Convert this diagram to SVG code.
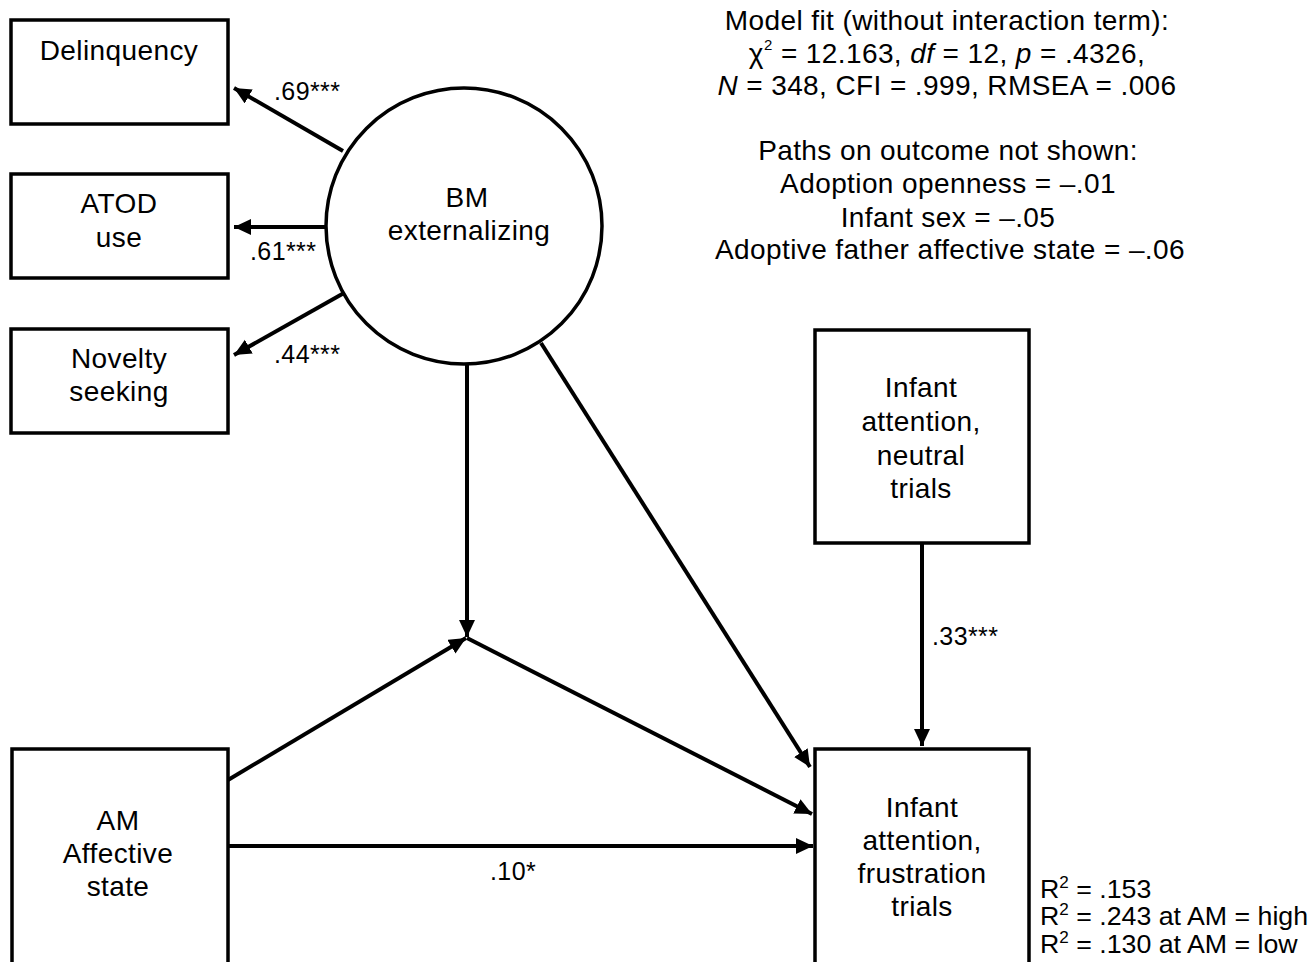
<svg xmlns="http://www.w3.org/2000/svg" width="1313" height="962" viewBox="0 0 1313 962">
<style>
text{font-family:"Liberation Sans",Arial,sans-serif;fill:#000}
.n{font-size:28px;letter-spacing:0.4px;text-anchor:middle}
.lbl{font-size:25px;letter-spacing:0.4px}
.box{fill:#fff;stroke:#000;stroke-width:3.5}
.edge{stroke:#000;stroke-width:4;fill:none;marker-end:url(#ah)}
.note{font-size:28px;letter-spacing:0.4px;text-anchor:middle}
.r2{font-size:25px}
</style>
<defs>
<marker id="ah" markerUnits="userSpaceOnUse" markerWidth="18" markerHeight="17" refX="17" refY="8" orient="auto">
<path d="M0,0 L17,8 L0,16 z" fill="#000"/>
</marker>
</defs>
<rect width="1313" height="962" fill="#fff"/>

<g id="connectors">
<line class="edge" x1="343" y1="151" x2="234" y2="88"/>
<line class="edge" x1="326" y1="227" x2="234" y2="227"/>
<line class="edge" x1="344" y1="293" x2="234" y2="355"/>
<line class="edge" x1="467" y1="364" x2="467" y2="637"/>
<line class="edge" x1="228" y1="780" x2="466" y2="638"/>
<line class="edge" x1="467" y1="638" x2="812" y2="814"/>
<line class="edge" x1="541" y1="343" x2="810" y2="767"/>
<line class="edge" x1="228" y1="846" x2="813" y2="846"/>
<line class="edge" x1="922" y1="543" x2="922" y2="746"/>
<text class="lbl" x="274" y="100">.69***</text>
<text class="lbl" x="250" y="260">.61***</text>
<text class="lbl" x="274" y="363">.44***</text>
<text class="lbl" x="490" y="880">.10*</text>
<text class="lbl" x="932" y="645">.33***</text>
</g>

<g id="delinquency">
<rect class="box" x="11" y="20" width="217" height="104"/>
<text class="n" x="119" y="60">Delinquency</text>
</g>
<g id="atod">
<rect class="box" x="11" y="174" width="217" height="104"/>
<text class="n" x="119" y="213">ATOD</text>
<text class="n" x="119" y="247">use</text>
</g>
<g id="novelty">
<rect class="box" x="11" y="329" width="217" height="104"/>
<text class="n" x="119" y="368">Novelty</text>
<text class="n" x="119" y="401">seeking</text>
</g>
<g id="bm">
<circle cx="464" cy="226" r="138" fill="#fff" stroke="#000" stroke-width="3.5"/>
<text class="n" x="467" y="207">BM</text>
<text class="n" x="469" y="240">externalizing</text>
</g>
<g id="am">
<rect class="box" x="12" y="749" width="216" height="230"/>
<text class="n" x="118" y="830">AM</text>
<text class="n" x="118" y="863">Affective</text>
<text class="n" x="118" y="896">state</text>
</g>
<g id="neutral">
<rect class="box" x="815" y="330" width="214" height="213"/>
<text class="n" x="921" y="397">Infant</text>
<text class="n" x="921" y="431">attention,</text>
<text class="n" x="921" y="465">neutral</text>
<text class="n" x="921" y="498">trials</text>
</g>
<g id="frustration">
<rect class="box" x="815" y="749" width="214" height="230"/>
<text class="n" x="922" y="817">Infant</text>
<text class="n" x="922" y="850">attention,</text>
<text class="n" x="922" y="883">frustration</text>
<text class="n" x="922" y="916">trials</text>
</g>

<g id="notes">
<text class="note" x="947" y="30">Model fit (without interaction term):</text>
<text class="note" x="947" y="63">χ<tspan font-size="15" dy="-13">2</tspan><tspan dy="13"> = 12.163, </tspan><tspan font-style="italic">df</tspan> = 12, <tspan font-style="italic">p</tspan> = .4326,</text>
<text class="note" x="947" y="95"><tspan font-style="italic">N</tspan> = 348, CFI = .999, RMSEA = .006</text>
<text class="note" x="948" y="160">Paths on outcome not shown:</text>
<text class="note" x="948" y="193">Adoption openness = –.01</text>
<text class="note" x="948" y="227">Infant sex = –.05</text>
<text class="note" x="950" y="259">Adoptive father affective state = –.06</text>
</g>
<g id="r2">
<text class="r2" transform="translate(1040,898) scale(1.07,1)" x="0" y="0">R<tspan font-size="16" dy="-10">2</tspan><tspan dy="10"> = .153</tspan></text>
<text class="r2" transform="translate(1040,925) scale(1.07,1)" x="0" y="0">R<tspan font-size="16" dy="-10">2</tspan><tspan dy="10"> = .243 at AM = high</tspan></text>
<text class="r2" transform="translate(1040,953) scale(1.07,1)" x="0" y="0">R<tspan font-size="16" dy="-10">2</tspan><tspan dy="10"> = .130 at AM = low</tspan></text>
</g>
</svg>
